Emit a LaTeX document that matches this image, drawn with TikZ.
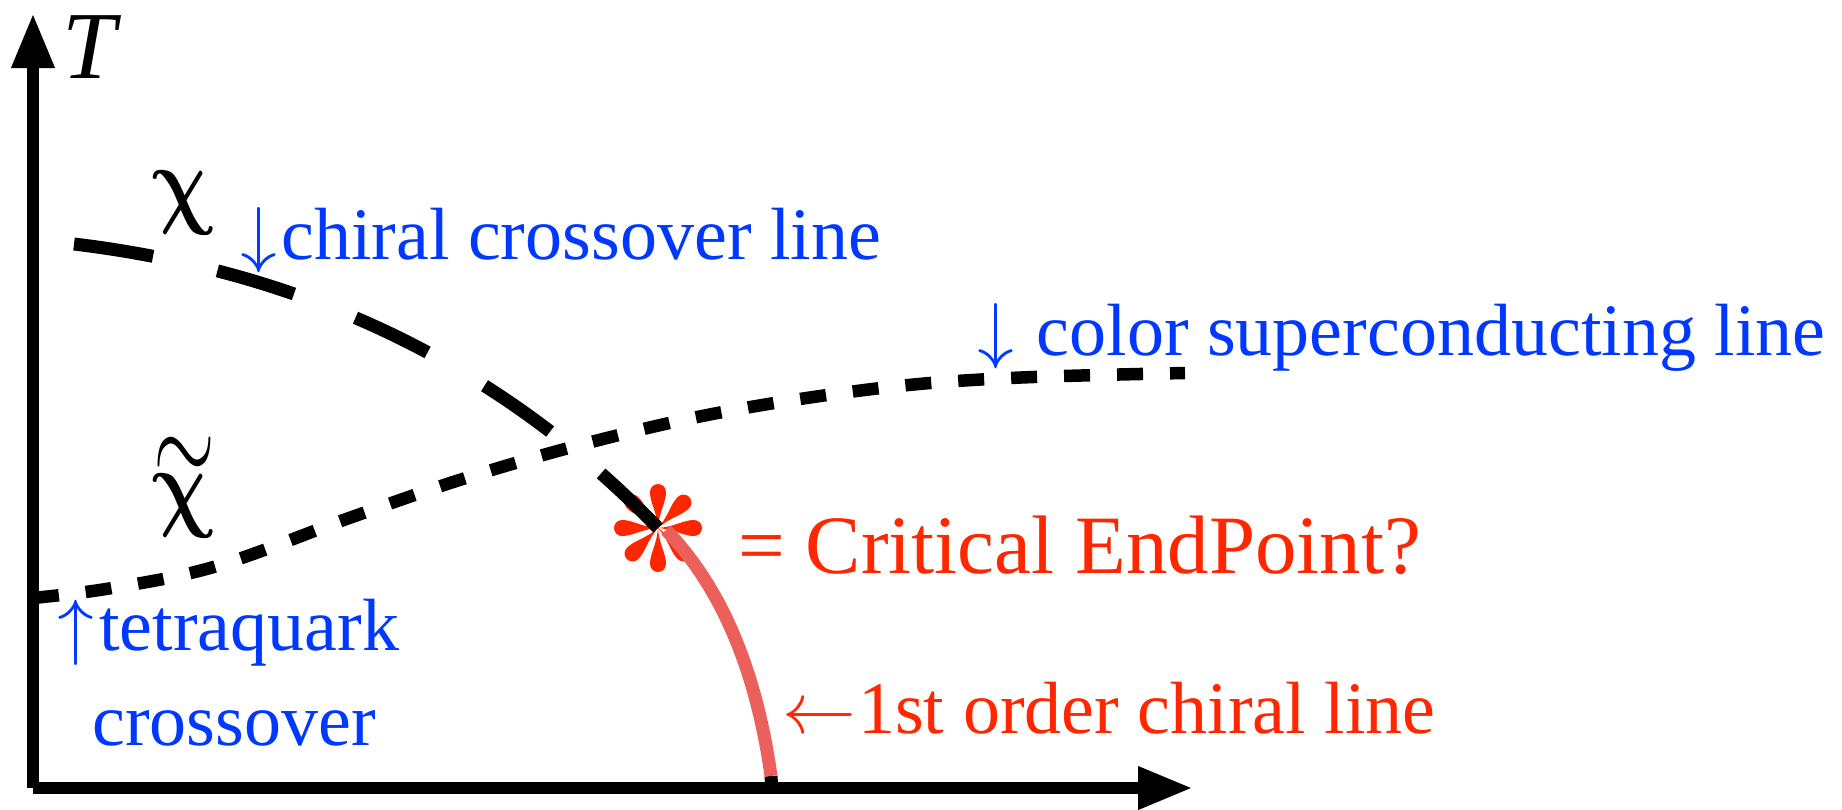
\documentclass[tikz,border=0pt]{standalone}
\usepackage{fontspec}
\usepackage{unicode-math}
\setmainfont{Liberation Serif}
\usetikzlibrary{arrows.meta}
\definecolor{lblue}{RGB}{0,56,255}
\definecolor{lred}{RGB}{255,38,0}
\definecolor{lsalmon}{RGB}{235,96,90}
\tikzset{
  axisline/.style={line width=12.5pt, line cap=butt, -{Triangle[length=55pt,width=40pt]}},
  chiralline/.style={line width=13pt, dash pattern=on 80pt off 66pt},
  tetraline/.style={line width=12.5pt, dash pattern=on 26pt off 27pt},
  firstline/.style={line width=13pt, color=lsalmon},
  bluelbl/.style={text=lblue, font=\fontsize{74}{95}\selectfont, anchor=base west, inner sep=0pt, align=left},
  redlbl/.style={text=lred, anchor=base west, inner sep=0pt},
  chilbl/.style={font=\fontsize{100}{100}\selectfont, anchor=base, inner sep=0pt},
}
\begin{document}
\begin{tikzpicture}[x=1pt,y=-1pt]
\useasboundingbox (0,0) rectangle (1842,809);
% coordinates
\coordinate (O) at (33,788);
\coordinate (Ytip) at (33,13);
\coordinate (Xtip) at (1193,788);
\coordinate (c0) at (74,244);
\coordinate (CEP) at (658,528);
\coordinate (r0) at (666,530);
\coordinate (r1) at (771,776);
\coordinate (r2) at (771.5,784);
% tetraquark / color superconducting line
\draw[tetraline] plot[smooth, tension=0.6] coordinates {(33,598) (112,588) (217,566) (352,517) (469,477) (599,440) (728,411) (881,388) (1010,378) (1185,373)};
% asterisk
\foreach \a in {0,45,...,315}{
  \fill[lred, shift={(CEP)}, rotate=\a] (0,0) .. controls (18,1.5) and (25,8) .. (36,8) arc[start angle=90,end angle=-90,radius=8] .. controls (25,-8) and (18,-1.5) .. (0,0);
}
% chiral crossover line
\draw[chiralline] (c0) .. controls (306,272) and (501,365) .. (CEP);
% first order line
\draw[line width=13pt] (r1) -- (r2);
\draw[firstline] (r0) .. controls (721,587) and (756,669) .. (r1);
% axes
\draw[axisline] (O) -- (Ytip);
\draw[axisline] (O) -- (Xtip);
% labels
\node[anchor=base west, inner sep=0pt, font=\fontsize{96}{100}\selectfont\itshape] (T) at (62,78) {T};
\node[chilbl] (chi) at (184,215) {\scalebox{0.8}[1]{$\symbfup{\chi}$}};
\node[chilbl] (chit) at (184,518) {\scalebox{0.8}[1]{\ooalign{$\symbfup{\chi}$\cr\hidewidth\raisebox{34pt}{\scalebox{1.0}[1.3]{$\sim$}}\hidewidth\cr}}};
\node[bluelbl] (chirlbl) at (240,259) {$\downarrow$\kern4pt chiral crossover line};
\node[bluelbl] (cslbl) at (977,355) {$\downarrow$ \kern4pt color superconducting line};
\node[bluelbl] (tqlbl) at (57,745) {$\uparrow$\kern5pt tetraquark\\\hspace*{35pt}crossover};
\node[redlbl, font=\fontsize{83}{95}\selectfont] (ceplbl) at (738,573) {= Critical EndPoint?};
\node[redlbl, font=\fontsize{74}{95}\selectfont] (folbl) at (782,733) {$\leftarrow$\kern2pt 1st order chiral line};
\end{tikzpicture}
\end{document}
